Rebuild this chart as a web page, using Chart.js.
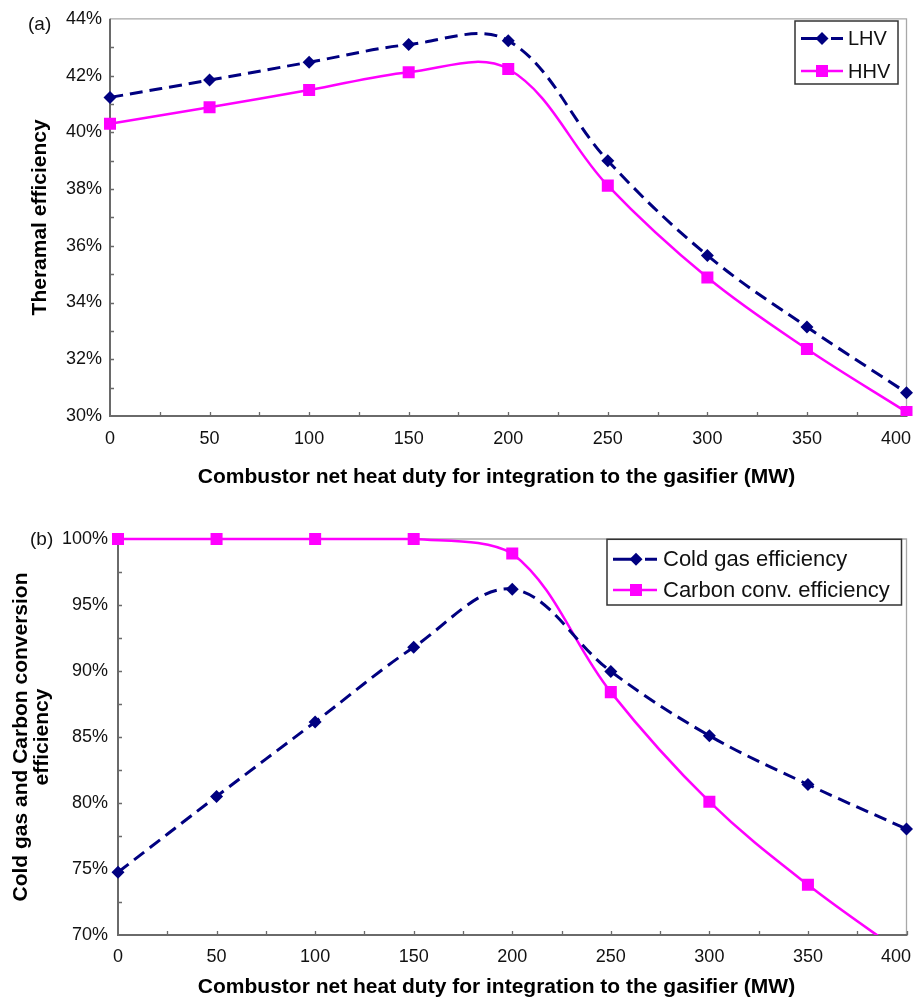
<!DOCTYPE html>
<html>
<head>
<meta charset="utf-8">
<script src="https://cdn.jsdelivr.net/npm/chart.js@4/dist/chart.umd.min.js"></script>
<style>
  html, body { margin: 0; padding: 0; background: #fff; }
  #wrap { position: relative; width: 915px; height: 997px; }
  .panel { position: absolute; left: 0; width: 915px; }
  #panelA { top: 0; height: 500px; }
  #panelB { top: 500px; height: 497px; }
  canvas { display: block; }
</style>
</head>
<body>
<div id="wrap">
  <div class="panel" id="panelA"><canvas id="chartA" width="915" height="500"></canvas></div>
  <div class="panel" id="panelB"><canvas id="chartB" width="915" height="497"></canvas></div>
</div>
<script>
// Combustor net heat duty (MW)
const heatDuty = [0, 50, 100, 150, 200, 250, 300, 350, 400];
const xTickValues = [0, 50, 100, 150, 200, 250, 300, 350, 400];

// (a) thermal efficiency, %
const lhvEff = [41.23, 41.84, 42.47, 43.09, 43.23, 39.0, 35.66, 33.14, 30.82];
const hhvEff = [40.3, 40.88, 41.49, 42.12, 42.23, 38.12, 34.88, 32.36, 30.14];

// (b) cold gas and carbon conversion efficiency, %
const coldGasEff = [74.75, 80.5, 86.14, 91.8, 96.2, 89.97, 85.1, 81.4, 78.03];
const carbonConvEff = [100, 100, 100, 100, 98.9, 88.4, 80.1, 73.8, 68.4];

const xTitle = 'Combustor net heat duty for integration to the gasifier (MW)';
const FONT = '"Liberation Sans", Arial, Helvetica, sans-serif';
const NAVY = '#000080';
const MAGENTA = '#FF00FF';

function drawMarker(ctx, style, r, x, y, color) {
  ctx.save();
  ctx.fillStyle = color;
  ctx.setLineDash([]);
  ctx.beginPath();
  if (style === 'rectRot') {
    ctx.moveTo(x - r, y); ctx.lineTo(x, y - r); ctx.lineTo(x + r, y); ctx.lineTo(x, y + r);
  } else {
    const s = Math.SQRT1_2 * r;
    ctx.rect(x - s, y - s, 2 * s, 2 * s);
  }
  ctx.closePath();
  ctx.fill();
  ctx.restore();
}

function panelPlugin(cfg) {
  return {
    id: 'panelDecor',
    beforeDatasetsDraw(chart) {
      const { ctx, chartArea: a, scales: { x, y } } = chart;
      ctx.save();
      // light frame on top and right
      ctx.strokeStyle = '#a8a8a8';
      ctx.lineWidth = 1.3;
      ctx.beginPath();
      ctx.moveTo(a.left, a.top);
      ctx.lineTo(a.right, a.top);
      ctx.lineTo(a.right, a.bottom);
      ctx.stroke();
      // axis lines
      ctx.strokeStyle = '#6a6a6a';
      ctx.lineWidth = 2;
      ctx.beginPath();
      ctx.moveTo(a.left, a.top);
      ctx.lineTo(a.left, a.bottom);
      ctx.lineTo(a.right + 1, a.bottom);
      ctx.stroke();
      // inside tick marks
      ctx.lineWidth = 1.3;
      ctx.beginPath();
      for (let v = x.min + cfg.xMinor; v < x.max + 1e-6; v += cfg.xMinor) {
        const px = Math.round(x.getPixelForValue(v)) + 0.5;
        ctx.moveTo(px, a.bottom);
        ctx.lineTo(px, a.bottom - 4);
      }
      for (let v = y.min + cfg.yMinor; v < y.max - 1e-6; v += cfg.yMinor) {
        const py = Math.round(y.getPixelForValue(v)) + 0.5;
        ctx.moveTo(a.left, py);
        ctx.lineTo(a.left + 4, py);
      }
      ctx.stroke();
      ctx.restore();
    },
    afterDraw(chart) {
      const { ctx, chartArea: a, scales: { x } } = chart;
      ctx.save();
      ctx.fillStyle = '#111';
      // x tick labels
      ctx.font = '18px ' + FONT;
      ctx.textBaseline = 'alphabetic';
      ctx.textAlign = 'left';
      xTickValues.forEach(v => {
        const label = String(v);
        const w = ctx.measureText(label).width;
        let left = x.getPixelForValue(v) - w / 2;
        if (left + w > chart.width - 4) left = chart.width - 4 - w;
        ctx.fillText(label, left, a.bottom + cfg.xTickOffset);
      });
      // x axis title
      ctx.font = 'bold 21px ' + FONT;
      ctx.textAlign = 'center';
      ctx.fillStyle = '#000';
      ctx.fillText(xTitle, cfg.xTitleX, cfg.xTitleY);
      // y axis title
      const cy = (a.top + a.bottom) / 2;
      cfg.yTitle.forEach((line, i) => {
        ctx.save();
        ctx.translate(cfg.yTitleX[i], cy);
        ctx.rotate(-Math.PI / 2);
        ctx.textBaseline = 'middle';
        ctx.textAlign = 'center';
        ctx.fillText(line, 0, 0);
        ctx.restore();
      });
      // panel tag
      ctx.font = '19px ' + FONT;
      ctx.textAlign = 'left';
      ctx.textBaseline = 'middle';
      ctx.fillStyle = '#111';
      ctx.fillText(cfg.tag, cfg.tagX, cfg.tagY);
      // legend
      const L = cfg.legend;
      ctx.fillStyle = '#fff';
      ctx.fillRect(L.x, L.y, L.w, L.h);
      ctx.strokeStyle = '#333';
      ctx.lineWidth = 1.5;
      ctx.strokeRect(L.x, L.y, L.w, L.h);
      chart.data.datasets.forEach((ds, i) => {
        const ry = L.y + L.rows[i];
        ctx.strokeStyle = ds.borderColor;
        ctx.lineWidth = ds.borderWidth;
        ctx.setLineDash([]);
        ctx.beginPath();
        if (ds.borderDash && ds.borderDash.length) {
          ctx.moveTo(L.x0, ry); ctx.lineTo(L.xm, ry);
          ctx.moveTo(L.xm + 9, ry); ctx.lineTo(L.x1, ry);
        } else {
          ctx.moveTo(L.x0, ry); ctx.lineTo(L.x1, ry);
        }
        ctx.stroke();
        drawMarker(ctx, ds.pointStyle, ds.pointRadius, L.xm, ry, ds.borderColor);
        ctx.fillStyle = '#111';
        ctx.font = L.fontSize + 'px ' + FONT;
        ctx.textAlign = 'left';
        ctx.textBaseline = 'middle';
        ctx.fillText(ds.label, L.tx, ry + 1);
      });
      ctx.restore();
    }
  };
}

function buildChart(canvasId, cfg) {
  return new Chart(document.getElementById(canvasId), {
    type: 'line',
    data: {
      datasets: cfg.series.map(s => ({
        label: s.label,
        data: heatDuty.map((xv, i) => ({ x: xv, y: s.values[i] })),
        borderColor: s.color,
        backgroundColor: s.color,
        borderWidth: s.width,
        borderDash: s.dash || [],
        pointStyle: s.marker,
        pointRadius: s.radius,
        pointHoverRadius: s.radius,
        pointBorderWidth: 0,
        pointBackgroundColor: s.color,
        tension: 0.36,
        fill: false,
        clip: { left: 12, right: 12, top: 12, bottom: 0 }
      }))
    },
    options: {
      responsive: false,
      animation: false,
      events: [],
      layout: { padding: { left: 0, right: cfg.padRight, top: cfg.padTop, bottom: 0 } },
      plugins: {
        legend: { display: false },
        tooltip: { enabled: false },
        title: { display: false }
      },
      scales: {
        x: {
          type: 'linear',
          min: 0,
          max: 400,
          ticks: { display: false, stepSize: 50 },
          grid: { display: false, drawTicks: false },
          border: { display: false },
          afterFit: s => { s.height = cfg.xAxisHeight; }
        },
        y: {
          min: cfg.yMin,
          max: cfg.yMax,
          ticks: {
            stepSize: cfg.yStep,
            callback: v => v + '%',
            font: { family: FONT, size: 18 },
            color: '#111',
            padding: cfg.yTickPad
          },
          grid: { display: false, drawTicks: false },
          border: { display: false },
          afterFit: s => { s.width = cfg.yAxisWidth; }
        }
      }
    },
    plugins: [panelPlugin(cfg)]
  });
}

buildChart('chartA', {
  series: [
    { label: 'LHV', values: lhvEff, color: NAVY, width: 3, dash: [13, 7], marker: 'rectRot', radius: 6.5 },
    { label: 'HHV', values: hhvEff, color: MAGENTA, width: 2.5, marker: 'rect', radius: 8.5 }
  ],
  yMin: 30, yMax: 44, yStep: 2, yMinor: 1, xMinor: 25,
  padTop: 18, padRight: 8, yAxisWidth: 110, xAxisHeight: 84, yTickPad: 8,
  xTickOffset: 27.5, xTitleX: 496.5, xTitleY: 483,
  yTitle: ['Theramal efficiency'], yTitleX: [40],
  tag: '(a)', tagX: 28, tagY: 25,
  legend: { x: 795, y: 21, w: 103, h: 63, rows: [17.5, 50], x0: 801, xm: 822, x1: 843, tx: 848, fontSize: 20 }
});

buildChart('chartB', {
  series: [
    { label: 'Cold gas efficiency', values: coldGasEff, color: NAVY, width: 3, dash: [13, 7], marker: 'rectRot', radius: 6.5 },
    { label: 'Carbon conv. efficiency', values: carbonConvEff, color: MAGENTA, width: 2.5, marker: 'rect', radius: 8.5 }
  ],
  yMin: 70, yMax: 100, yStep: 5, yMinor: 2.5, xMinor: 25,
  padTop: 39, padRight: 8, yAxisWidth: 118, xAxisHeight: 62, yTickPad: 10,
  xTickOffset: 27, xTitleX: 496.5, xTitleY: 493,
  yTitle: ['Cold gas and Carbon conversion', 'efficiency'], yTitleX: [21, 42],
  tag: '(b)', tagX: 30, tagY: 40,
  legend: { x: 607, y: 39.3, w: 294.5, h: 65.7, rows: [20, 50.7], x0: 613, xm: 636, x1: 657, tx: 663, fontSize: 22 }
});
</script>
</body>
</html>
